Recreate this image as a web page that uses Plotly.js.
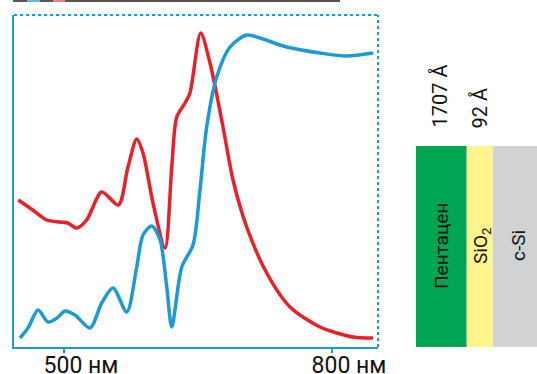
<!DOCTYPE html>
<html><head><meta charset="utf-8">
<script src="https://cdn.plot.ly/plotly-3.0.1.min.js"></script>
<style>html,body{margin:0;padding:0;background:#fff;}#chart{width:537px;height:374px;}</style>
</head><body><div id="chart"></div>
<script>
// Wavelength (nm) and relative signal (arbitrary units)
const redWavelength = [448.8, 465, 480.6, 495.5, 504, 514.2, 525.4, 542.2, 560.8, 571.6, 581.4, 588.4, 599.6, 613.1, 620.6, 626.2, 635.5, 641, 653, 663.4, 678, 689.2, 704.5, 726.9, 753, 786.6, 823.5, 845.9];
const redValues     = [147, 137, 127, 125, 124, 119, 127, 155, 142, 180, 208, 194, 144, 99, 180, 230, 244, 254, 314, 284, 220, 167, 120, 74, 40, 20, 10, 9];
const blueWavelength = [450.7, 459.7, 470.9, 482.1, 492.2, 501.1, 512.3, 529.1, 542.2, 554.9, 570.2, 581.4, 588.4, 598.2, 607.5, 615, 620.6, 631.8, 644.4, 652.2, 659.7, 670.9, 685.8, 704.5, 719.4, 749.3, 786.6, 816.5, 845.9];
const blueValues     = [9, 19, 37, 25, 29, 36, 32, 19, 44, 59, 35, 80, 112, 121, 107, 60, 20, 80, 102, 157, 220, 270, 300, 312, 309, 300, 294, 291, 294];
const tickValues = [500, 800];
const tickLabels = ["500 нм", "800 нм"];
const layerNames = ["Пентацен", "SiO<sub>2</sub>", "c-Si"];
const layerThickness = ["1707 Å", "92 Å"];

const RED = '#e8202a', BLUE = '#1b9ad7';
const W = 537, H = 374, L = 14, R = 378, T = 15, B = 347;
const px = x => (x - L) / (R - L);
const py = y => (B - y) / (B - T);

const traces = [
  {x: redWavelength, y: redValues, mode: 'lines', line: {color: RED, width: 3.5, shape: 'spline', smoothing: 0.8}, hoverinfo: 'skip'},
  {x: blueWavelength, y: blueValues, mode: 'lines', line: {color: BLUE, width: 3.5, shape: 'spline', smoothing: 0.8}, hoverinfo: 'skip'}
];

const shapes = [
  {type: 'line', xref: 'paper', yref: 'paper', x0: 0, x1: 1, y0: 1, y1: 1, line: {color: BLUE, width: 2, dash: 'dot'}},
  {type: 'line', xref: 'paper', yref: 'paper', x0: 1, x1: 1, y0: 0, y1: 1, line: {color: BLUE, width: 2, dash: 'dot'}},
  {type: 'rect', xref: 'paper', yref: 'paper', x0: px(416), x1: px(466.7), y0: 0, y1: py(146), fillcolor: '#00a551', line: {width: 0}},
  {type: 'rect', xref: 'paper', yref: 'paper', x0: px(466.7), x1: px(492.7), y0: 0, y1: py(146), fillcolor: '#fff58c', line: {width: 0}},
  {type: 'rect', xref: 'paper', yref: 'paper', x0: px(492.7), x1: px(537), y0: 0, y1: py(146), fillcolor: '#d1d2d4', line: {width: 0}},
  {type: 'line', xref: 'paper', yref: 'paper', x0: px(13), x1: px(340), y0: py(1), y1: py(1), line: {color: '#555', width: 2}},
  {type: 'line', xref: 'paper', yref: 'paper', x0: px(27), x1: px(40), y0: py(1), y1: py(1), line: {color: '#5bb8e8', width: 2}},
  {type: 'line', xref: 'paper', yref: 'paper', x0: px(53), x1: px(65), y0: py(1), y1: py(1), line: {color: '#f08080', width: 2}}
];

const font = {family: 'Roboto, Arial, sans-serif', color: '#111'};
const annotations = [
  {text: layerThickness[0], x: px(439), y: py(130), xanchor: 'center', yanchor: 'bottom', size: 20},
  {text: layerThickness[1], x: px(479), y: py(130), xanchor: 'center', yanchor: 'bottom', size: 20},
  {text: layerNames[0], x: px(441), y: py(246), xanchor: 'center', yanchor: 'middle', size: 19},
  {text: layerNames[1], x: px(481), y: py(246), xanchor: 'center', yanchor: 'middle', size: 19},
  {text: layerNames[2], x: px(518), y: py(246), xanchor: 'center', yanchor: 'middle', size: 19}
].map(a => {
  const s = a.size; delete a.size;
  return Object.assign({xref: 'paper', yref: 'paper', showarrow: false, textangle: -90, font: Object.assign({size: s}, font)}, a);
});

const layout = {
  width: W, height: H,
  margin: {l: L, r: W - R, t: T, b: H - B, pad: 0},
  paper_bgcolor: '#fff', plot_bgcolor: '#fff',
  showlegend: false,
  xaxis: {range: [444, 851.5], tickvals: tickValues, ticktext: tickLabels, ticks: 'outside', ticklen: 4, tickwidth: 1.5, tickcolor: BLUE,
          ticklabelstandoff: -8, ticklabelshift: 17,
          showline: true, linecolor: BLUE, linewidth: 2, showgrid: false, zeroline: false, tickfont: Object.assign({size: 23}, font)},
  yaxis: {range: [0, 332], showticklabels: false, ticks: '', showline: true, linecolor: BLUE, linewidth: 2, showgrid: false, zeroline: false},
  shapes: shapes, annotations: annotations
};
Plotly.newPlot('chart', traces, layout, {staticPlot: true, displayModeBar: false});
</script></body></html>
